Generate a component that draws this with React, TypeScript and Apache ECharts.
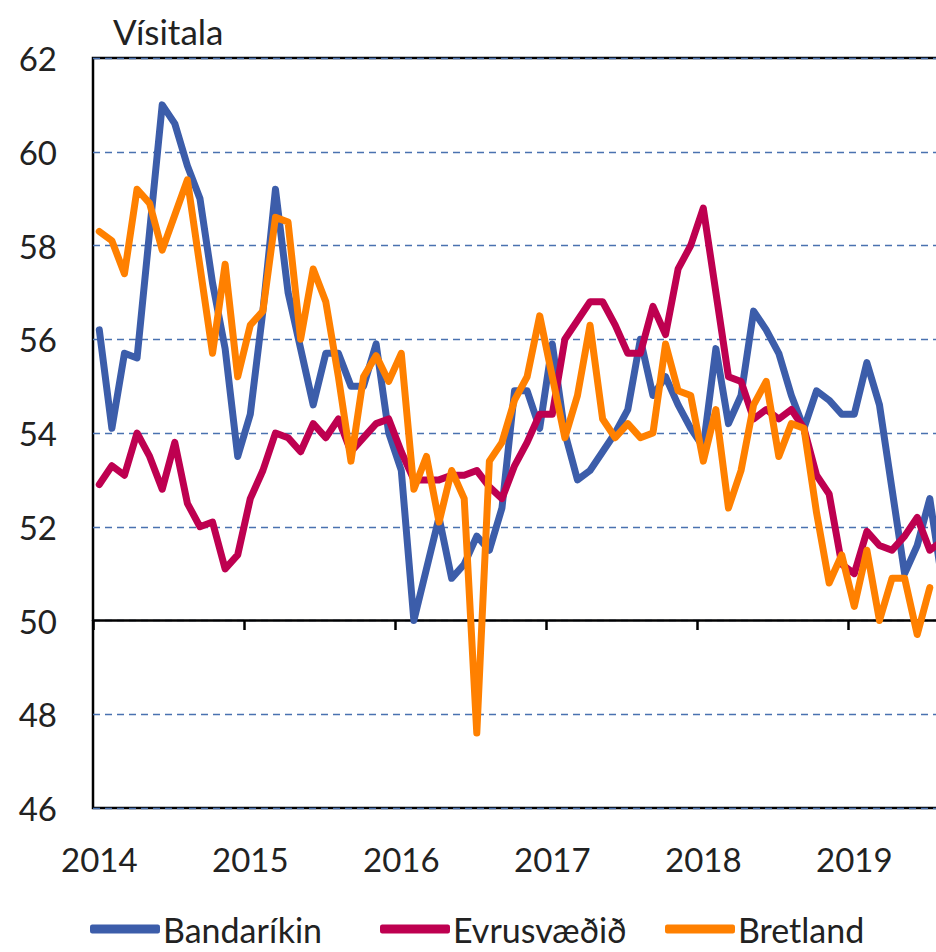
import React, { useEffect, useRef } from "react";
import * as echarts from "echarts";

const years = ["2014", "2015", "2016", "2017", "2018", "2019"];
const months = ["01", "02", "03", "04", "05", "06", "07", "08", "09", "10", "11", "12"];
const categories: string[] = [];
years.forEach((y) => months.forEach((m) => categories.push(`${y}-${m}`)));

const yTicks = [46, 48, 50, 52, 54, 56, 58, 60, 62];

const seriesNames = ["Bandaríkin", "Evrusvæðið", "Bretland"];

const bandarikin = [
  56.2, 54.1, 55.7, 55.6, 58.3, 61.0, 60.6, 59.7, 59.0, 57.2, 55.8, 53.5,
  54.4, 56.6, 59.2, 57.0, 55.8, 54.6, 55.7, 55.7, 55.0, 55.0, 55.9, 54.0,
  53.2, 50.0, 51.1, 52.2, 50.9, 51.2, 51.8, 51.5, 52.4, 54.9, 54.9, 54.1,
  55.9, 54.0, 53.0, 53.2, 53.6, 54.0, 54.5, 56.0, 54.8, 55.2, 54.6, 54.1,
  53.7, 55.8, 54.2, 54.8, 56.6, 56.2, 55.7, 54.8, 54.1, 54.9, 54.7, 54.4,
  54.4, 55.5, 54.6, 52.8, 51.0, 51.6, 52.6, 50.8,
];

const evrusvaedid = [
  52.9, 53.3, 53.1, 54.0, 53.5, 52.8, 53.8, 52.5, 52.0, 52.1, 51.1, 51.4,
  52.6, 53.2, 54.0, 53.9, 53.6, 54.2, 53.9, 54.3, 53.6, 53.9, 54.2, 54.3,
  53.6, 53.0, 53.0, 53.0, 53.1, 53.1, 53.2, 52.85, 52.6, 53.3, 53.8, 54.4,
  54.4, 56.0, 56.4, 56.8, 56.8, 56.3, 55.7, 55.7, 56.7, 56.1, 57.5, 58.0,
  58.8, 57.0, 55.2, 55.1, 54.3, 54.5, 54.3, 54.5, 54.1, 53.1, 52.7, 51.2,
  51.0, 51.9, 51.6, 51.5, 51.8, 52.2, 51.5, 51.7,
];

const bretland = [
  58.3, 58.1, 57.4, 59.2, 58.9, 57.9, 58.65, 59.4, 57.55, 55.7, 57.6, 55.2,
  56.3, 56.6, 58.6, 58.5, 56.0, 57.5, 56.8, 55.2, 53.4, 55.2, 55.65, 55.1,
  55.7, 52.8, 53.5, 52.1, 53.2, 52.6, 47.6, 53.4, 53.8, 54.7, 55.2, 56.5,
  55.2, 53.9, 54.8, 56.3, 54.3, 53.9, 54.2, 53.9, 54.0, 55.9, 54.9, 54.8,
  53.4, 54.5, 52.4, 53.2, 54.6, 55.1, 53.5, 54.2, 54.1, 52.3, 50.8, 51.4,
  50.3, 51.5, 50.0, 50.9, 50.9, 49.7, 50.7,
];

const colors = ["#3C5DAA", "#BE0050", "#FF8000"];
const FONT = "Lato, 'Open Sans', sans-serif";

export default function App() {
  const ref = useRef<HTMLDivElement>(null);

  useEffect(() => {
    if (!ref.current) return;
    const chart = echarts.init(ref.current, undefined, { renderer: "svg" });
    const legendLefts = [90, 380, 665];
    const datas = [bandarikin, evrusvaedid, bretland];
    const option: any = {
      animation: false,
      backgroundColor: "#fff",
      textStyle: { fontFamily: FONT },
      grid: {
        left: 93,
        top: 58,
        width: 906,
        height: 750,
        show: true,
        borderColor: "#000",
        borderWidth: 2.5,
        backgroundColor: "transparent",
      },
      legend: seriesNames.map((n, i) => ({
        data: [n],
        left: legendLefts[i],
        top: 911,
        itemWidth: 70,
        itemHeight: 9,
        itemGap: 0,
        icon: "roundRect",
        padding: 0,
        textStyle: { fontFamily: FONT, fontSize: 34, lineHeight: 36, color: "#222", padding: [0, 0, 0, -2] },
      })),
      graphic: [
        {
          type: "text",
          left: 113,
          top: 13,
          style: { text: "Vísitala", font: `35px ${FONT}`, fill: "#222" },
        },
      ],
      xAxis: [
        {
          type: "category",
          data: categories,
          boundaryGap: true,
          position: "bottom",
          axisLine: { show: false },
          axisTick: { show: false },
          splitLine: { show: false },
          axisLabel: {
            interval: (i: number) => i % 12 === 0,
            formatter: (v: string) => v.slice(0, 4),
            fontSize: 33,
            color: "#222",
            margin: 34,
            fontFamily: FONT,
          },
        },
        {
          type: "category",
          data: categories,
          boundaryGap: true,
          position: "bottom",
          offset: -188,
          axisLine: { show: true, lineStyle: { color: "#000", width: 2.5 } },
          axisTick: {
            show: true,
            interval: (i: number) => i % 12 === 0,
            length: 10,
            lineStyle: { color: "#000", width: 2.5 },
          },
          axisLabel: { show: false },
          splitLine: { show: false },
        },
      ],
      yAxis: {
        type: "value",
        min: yTicks[0],
        max: yTicks[yTicks.length - 1],
        interval: 2,
        axisLine: { show: false },
        axisTick: { show: false },
        axisLabel: { fontSize: 33, color: "#222", margin: 36, fontFamily: FONT },
        splitLine: {
          show: true,
          lineStyle: { color: "#4A72B0", width: 1.3, type: [7, 5] },
        },
      },
      series: seriesNames.map((n, i) => ({
        name: n,
        type: "line",
        xAxisIndex: 0,
        data: datas[i],
        showSymbol: false,
        symbol: "none",
        color: colors[i],
        lineStyle: { width: 7, color: colors[i], join: "round", cap: "round" },
        itemStyle: { color: colors[i] },
      })),
    };
    chart.setOption(option);
    return () => chart.dispose();
  }, []);

  return (
    <div style={{ position: "absolute", left: 0, top: 0, width: 936, height: 952, overflow: "hidden", background: "#fff" }}>
      <div ref={ref} style={{ width: 1010, height: 952 }} />
    </div>
  );
}
